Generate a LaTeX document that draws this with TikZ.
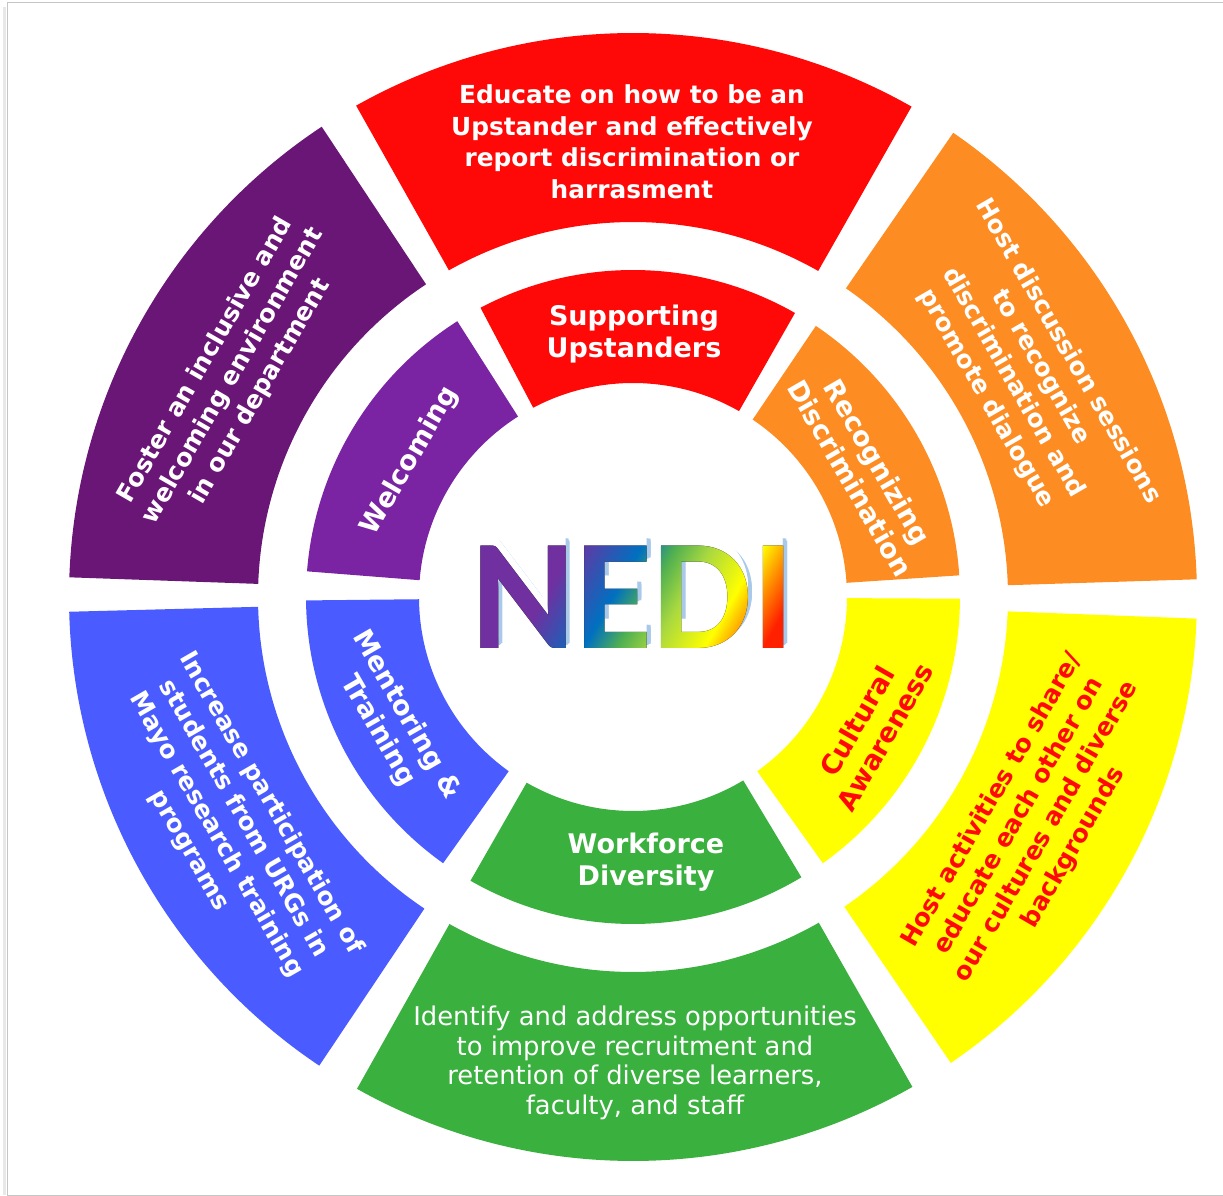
\documentclass[tikz,border=0pt]{standalone}
\usepackage{fontspec}
\setmainfont{DejaVu Sans}
\newfontfamily\nedifont{Carlito}
\usetikzlibrary{fadings}

\definecolor{nedired}{HTML}{FF0808}
\definecolor{nediorange}{HTML}{FD8C22}
\definecolor{nediyellow}{HTML}{FFFF00}
\definecolor{nedigreen}{HTML}{3AB03E}
\definecolor{nediblue}{HTML}{4A5CFF}
\definecolor{nedipurple}{HTML}{6A1677}
\definecolor{nedililac}{HTML}{7B24A3}
\definecolor{nedishadow}{HTML}{A9C9EB}
% rainbow for the centre word
\definecolor{rbpurple}{HTML}{7030A0}
\definecolor{rbblue}{HTML}{0070C0}
\definecolor{rbgreen}{HTML}{50B050}
\definecolor{rblime}{HTML}{A8D840}
\definecolor{rbyellow}{HTML}{FFFF00}
\definecolor{rborange}{HTML}{FF9000}
\definecolor{rbred}{HTML}{FF2000}

\pgfdeclarehorizontalshading{nedirainbow}{100bp}{color(0bp)=(rbpurple); color(39.7bp)=(rbpurple); color(48.5bp)=(rbblue); color(52.9bp)=(rbgreen); color(57.4bp)=(rblime); color(64bp)=(rbyellow); color(67.6bp)=(rborange); color(71.5bp)=(rbred); color(100bp)=(rbred)}

\newcommand{\nediletters}{\nedifont\bfseries\fontsize{158}{158}\selectfont}
\pgfdeclarefading{nedifade}{\color{white}\nediletters NEDI}

% one piece of a ring: colour, from angle, to angle, inner radius, outer radius
\newcommand{\ringpart}[5]{\fill[#1] (#2:#4) arc[start angle=#2, end angle=#3, radius=#4] -- (#3:#5) arc[start angle=#3, end angle=#2, radius=#5] -- cycle;}

\tikzset{
  goaltext/.style={align=center, text=white, font=\bfseries\fontsize{24.8}{31.5}\selectfont},
  themetext/.style={align=center, text=white, font=\bfseries\fontsize{27}{32}\selectfont},
  nediword/.style={inner sep=0pt, font=\nediletters},
}

\begin{document}
\begin{tikzpicture}[x=1pt, y=1pt]
    \useasboundingbox (-633,-599) rectangle (590,597);

    % frame
    \draw[gray!18, line width=3] (-628,590) -- (-628,-598);
    \draw[gray!45, line width=1] (592,594) -- (-625,594) -- (-625,-598) -- (592,-598);

    % outer ring
    \ringpart{nedired}{60.4}{119.4}{375}{564}
    \ringpart{nediorange}{1.8}{55.4}{375}{564}
    \ringpart{nediyellow}{-55.7}{-2.2}{375}{564}
    \ringpart{nedigreen}{240.7}{299.7}{375}{564}
    \ringpart{nediblue}{181.5}{236.2}{375}{564}
    \ringpart{nedipurple}{123.5}{178}{375}{564}

    % inner ring
    \ringpart{nedired}{60.3}{117.8}{214}{327}
    \ringpart{nediorange}{3.8}{56}{214}{327}
    \ringpart{nediyellow}{-54.5}{-0.3}{214}{327}
    \ringpart{nedigreen}{240.2}{301}{214}{327}
    \ringpart{nediblue}{180.6}{234.5}{214}{327}
    \ringpart{nedililac}{122.5}{175.5}{214}{327}

    % goals, outer ring
    \node[goaltext] (upstandgoal) at (-1,455) {Educate on how to be an\\Upstander and effectively\\report discrimination or\\harrasment};
    \node[goaltext, rotate=-60] (discrimgoal) at (394,222) {Host discussion sessions\\to recognize\\discrimination and\\promote dialogue};
    \node[goaltext, rotate=60, text=nedired] (culturegoal) at (400,-227) {Host activities to share/\\educate each other on\\our cultures and diverse\\backgrounds};
    \node[goaltext, font=\fontsize{25.8}{29.5}\selectfont] (workforcegoal) at (2,-466) {Identify and address opportunities\\to improve recruitment and\\retention of diverse learners,\\faculty, and staff};
    \node[goaltext, rotate=-60] (mentorgoal) at (-403,-230) {Increase participation of\\students from URGs in\\Mayo research training\\programs};
    \node[goaltext, rotate=60] (welcomegoal) at (-400,221) {Foster an inclusive and\\welcoming environment\\in our department};

    % themes, inner ring
    \node[themetext] (upstand) at (1,263) {Supporting\\Upstanders};
    \node[themetext, rotate=-60] (discrim) at (231,127) {Recognizing\\Discrimination};
    \node[themetext, rotate=60, text=nedired] (culture) at (238,-132) {Cultural\\Awareness};
    \node[themetext] (workforce) at (13,-265) {Workforce\\Diversity};
    \node[themetext, rotate=-60] (mentor) at (-241,-126) {Mentoring \&\\Training};
    \node[themetext, rotate=60] (welcome) at (-223,136) {Welcoming};

    % centre word: shadow, white rim, rainbow fill
    \coordinate (nedictr) at (-3,10);
    \foreach \ang in {0,45,...,315}
        \node[nediword, text=nedishadow] (nedishade\ang) at ([shift={(\ang:2)}] 2,5) {NEDI};
    \foreach \ang in {0,22.5,...,337.5}
        \node[nediword, text=white] (nedirim\ang) at ([shift={(\ang:2.5)}] nedictr) {NEDI};
    \fill[shading=nedirainbow, shading angle=-30, path fading=nedifade, fit fading=false] (-173,-160) rectangle (167,180);
\end{tikzpicture}
\end{document}
